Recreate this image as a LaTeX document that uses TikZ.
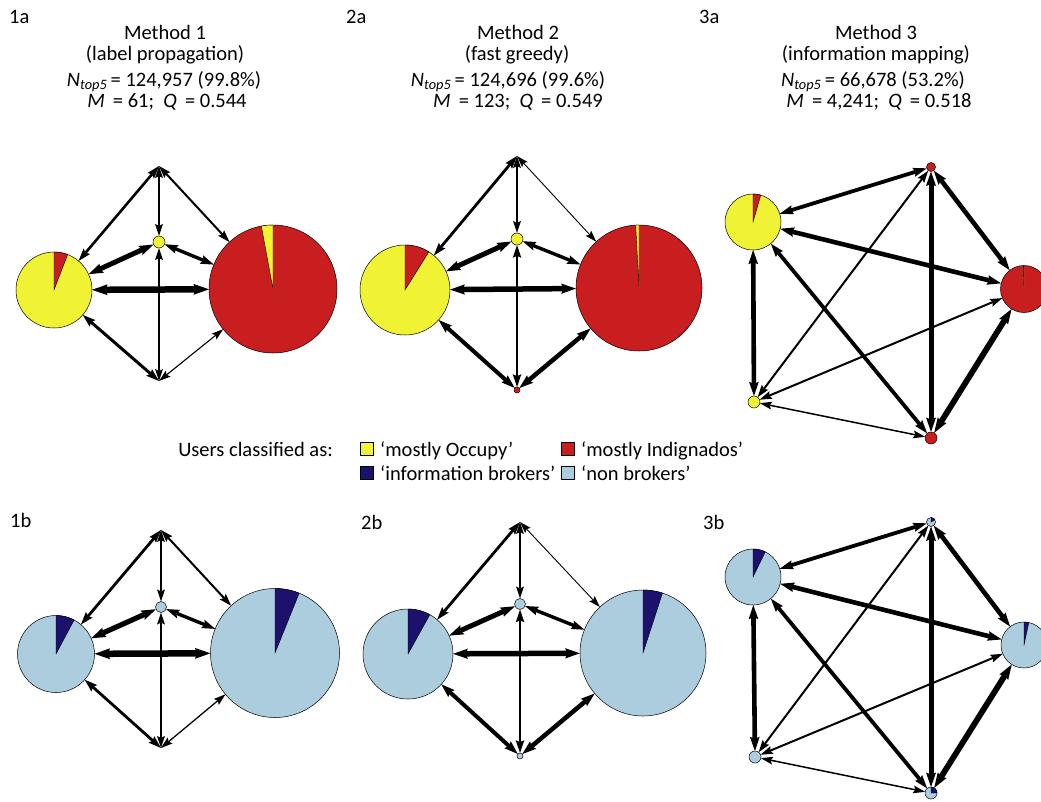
\documentclass[tikz,border=0pt]{standalone}
\usepackage{fontspec}
\setmainfont{Carlito}
\usetikzlibrary{arrows.meta}
\definecolor{occ}{RGB}{240,242,52}
\definecolor{ind}{RGB}{200,30,32}
\definecolor{brk}{RGB}{28,18,110}
\definecolor{nbr}{RGB}{172,205,222}
\tikzset{
  lnk/.style={line width=#1pt, <->},
  pie/.style={circle, draw=black, line width=0.5pt, inner sep=0pt, outer sep=0pt},
  wedge/.style={draw=black, line width=0.4pt},
  txt/.style={font=\fontsize{20.5}{24}\selectfont, inner sep=0pt},
  keybox/.style={draw=black, line width=1.1pt},
}
\newcommand\pienode[6]{%
  \node[pie, fill=#4, minimum size={2*#3pt}] (#1) at #2 {};
  \filldraw[wedge, fill=#5] (#1.center) -- ++(90:#3) arc[start angle=90, end angle=#6, radius=#3] -- cycle;
}
\begin{document}
\begin{tikzpicture}[x=1pt, y=1pt, >={Stealth[length=11pt 0.7, width=7pt 0.6, inset=2pt, line width=0pt 0]}]
\useasboundingbox[fill=white] (0,0) rectangle (1041,-801);

% ---------- headers ----------
\node[txt, anchor=base west] (h1a) at (9,-23) {1a};
\node[txt, anchor=base west] (h2a) at (346,-23) {2a};
\node[txt, anchor=base west] (h3a) at (699,-23) {3a};
\node[txt, anchor=base west] (h1b) at (10,-527) {1b};
\node[txt, anchor=base west] (h2b) at (361,-529) {2b};
\node[txt, anchor=base west] (h3b) at (703,-529) {3b};

\node[txt, anchor=base] (m1a) at (165,-39) {Method 1};
\node[txt, anchor=base] (m1b) at (165,-60) {(label propagation)};
\node[txt, anchor=base] (m1c) at (164,-86) {\textit{N}\textsubscript{\textit{top5}}\,= 124,957 (99.8\%)};
\node[txt, anchor=base] (m1d) at (167,-107) {\textit{M}\, = 61;\ \ \textit{Q}\, = 0.544};

\node[txt, anchor=base] (m2a) at (518,-39) {Method 2};
\node[txt, anchor=base] (m2b) at (517,-60) {(fast greedy)};
\node[txt, anchor=base] (m2c) at (508,-86) {\textit{N}\textsubscript{\textit{top5}}\,= 124,696 (99.6\%)};
\node[txt, anchor=base] (m2d) at (518,-107) {\textit{M}\, = 123;\ \ \textit{Q}\, = 0.549};

\node[txt, anchor=base] (m3a) at (876,-39) {Method 3};
\node[txt, anchor=base] (m3b) at (876,-60) {(information mapping)};
\node[txt, anchor=base] (m3c) at (873,-86) {\textit{N}\textsubscript{\textit{top5}}\,= 66,678 (53.2\%)};
\node[txt, anchor=base] (m3d) at (879,-107) {\textit{M}\, = 4,241;\ \ \textit{Q}\, = 0.518};

% ---------- legend ----------
\node[txt, anchor=base east] (lg0) at (333,-456) {Users classified as:};
\node[keybox, fill=occ, minimum size=13pt, inner sep=0pt, anchor=south west] (k1) at (360,-456) {};
\node[txt, anchor=base west] (t1) at (380,-456) {‘mostly Occupy’};
\node[keybox, fill=ind, minimum size=13pt, inner sep=0pt, anchor=south west] (k2) at (561,-456) {};
\node[txt, anchor=base west] (t2) at (581,-456) {‘mostly Indignados’};
\node[keybox, fill=brk, minimum size=13pt, inner sep=0pt, anchor=south west] (k3) at (360,-480) {};
\node[txt, anchor=base west] (t3) at (380,-480) {‘information brokers’};
\node[keybox, fill=nbr, minimum size=13pt, inner sep=0pt, anchor=south west] (k4) at (561,-480) {};
\node[txt, anchor=base west] (t4) at (581,-480) {‘non brokers’};

% ---------- panel 1a ----------
\coordinate (a1T) at (159,-166);
\coordinate (a1B) at (159,-381);
\node[pie, fill=occ, minimum size=12pt] (a1C) at (159,-242) {};
\pienode{a1L}{(54,-290)}{38}{occ}{ind}{69}
\pienode{a1R}{(273,-289)}{64}{ind}{occ}{100.5}
\draw[lnk=2.6] (a1T) -- (a1L);
\draw[lnk=1.5] (a1T) -- (a1C);
\draw[lnk=2] (a1T) -- (a1R);
\draw[lnk=5] (a1L) -- (a1C);
\draw[lnk=3.4] (a1C) -- (a1R);
\draw[lnk=6.5] (a1L) -- (a1R);
\draw[lnk=3] (a1L) -- (a1B);
\draw[lnk=1.4] (a1C) -- (a1B);
\draw[lnk=1.1] (a1B) -- (a1R);

% ---------- panel 2a ----------
\coordinate (a2T) at (517,-156);
\node[pie, fill=ind, minimum size=6pt] (a2B) at (517,-390) {};
\node[pie, fill=occ, minimum size=12pt] (a2C) at (517,-239) {};
\pienode{a2L}{(405,-290)}{45}{occ}{ind}{58}
\pienode{a2R}{(639,-288)}{63}{ind}{occ}{93}
\draw[lnk=2.8] (a2T) -- (a2L);
\draw[lnk=1.5] (a2T) -- (a2C);
\draw[lnk=0.9] (a2T) -- (a2R);
\draw[lnk=5] (a2L) -- (a2C);
\draw[lnk=3.4] (a2C) -- (a2R);
\draw[lnk=5.5] (a2L) -- (a2R);
\draw[lnk=4] (a2L) -- (a2B);
\draw[lnk=2.6] (a2C) -- (a2B);
\draw[lnk=4.5] (a2B) -- (a2R);

% ---------- panel 3a ----------
\node[pie, fill=ind, minimum size=9pt] (a3T) at (931,-167) {};
\pienode{a3Y}{(753,-222)}{28}{occ}{ind}{74}
\pienode{a3R}{(1024,-289)}{23.5}{ind}{occ}{91.5}
\node[pie, fill=occ, minimum size=12pt] (a3L) at (754,-402) {};
\node[pie, fill=ind, minimum size=12pt] (a3B) at (931,-438) {};
\draw[lnk=3.8] (a3Y) -- (a3T);
\draw[lnk=4.6] (a3Y) -- (a3R);
\draw[lnk=4.6] (a3Y) -- (a3L);
\draw[lnk=3.8] (a3Y) -- (a3B);
\draw[lnk=4.6] (a3T) -- (a3R);
\draw[lnk=5] (a3T) -- (a3B);
\draw[lnk=2] (a3T) -- (a3L);
\draw[lnk=2] (a3R) -- (a3L);
\draw[lnk=5.8] (a3R) -- (a3B);
\draw[lnk=1.5] (a3L) -- (a3B);

% ---------- panel 1b ----------
\coordinate (b1T) at (161,-530);
\coordinate (b1B) at (161,-748);
\node[pie, fill=nbr, minimum size=11pt] (b1C) at (161,-607) {};
\pienode{b1L}{(56,-654)}{38.5}{nbr}{brk}{62}
\pienode{b1R}{(275,-653)}{64.5}{nbr}{brk}{68}
\draw[lnk=2.8] (b1T) -- (b1L);
\draw[lnk=1.5] (b1T) -- (b1C);
\draw[lnk=2] (b1T) -- (b1R);
\draw[lnk=5.2] (b1L) -- (b1C);
\draw[lnk=3.4] (b1C) -- (b1R);
\draw[lnk=6.5] (b1L) -- (b1R);
\draw[lnk=2.8] (b1L) -- (b1B);
\draw[lnk=1.5] (b1C) -- (b1B);
\draw[lnk=1.3] (b1B) -- (b1R);

% ---------- panel 2b ----------
\coordinate (b2T) at (520,-522);
\node[pie, fill=nbr, minimum size=6pt] (b2B) at (520,-756) {};
\node[pie, fill=nbr, minimum size=11pt] (b2C) at (520,-604) {};
\pienode{b2L}{(408,-654)}{45}{nbr}{brk}{61}
\pienode{b2R}{(643,-653)}{63}{nbr}{brk}{72}
\draw[lnk=2.8] (b2T) -- (b2L);
\draw[lnk=1.5] (b2T) -- (b2C);
\draw[lnk=0.9] (b2T) -- (b2R);
\draw[lnk=5] (b2L) -- (b2C);
\draw[lnk=3.4] (b2C) -- (b2R);
\draw[lnk=5.5] (b2L) -- (b2R);
\draw[lnk=4] (b2L) -- (b2B);
\draw[lnk=2.6] (b2C) -- (b2B);
\draw[lnk=4.5] (b2B) -- (b2R);

% ---------- panel 3b ----------
\pienode{b3T}{(931,-522)}{4.5}{nbr}{brk}{30}
\pienode{b3Y}{(753,-577)}{28}{nbr}{brk}{64}
\pienode{b3R}{(1024,-645)}{23}{nbr}{brk}{78}
\node[pie, fill=nbr, minimum size=12pt] (b3L) at (755,-757) {};
\pienode{b3B}{(931,-793)}{6}{nbr}{brk}{0}
\draw[lnk=3.8] (b3Y) -- (b3T);
\draw[lnk=4.6] (b3Y) -- (b3R);
\draw[lnk=4.6] (b3Y) -- (b3L);
\draw[lnk=3.8] (b3Y) -- (b3B);
\draw[lnk=4.6] (b3T) -- (b3R);
\draw[lnk=5] (b3T) -- (b3B);
\draw[lnk=2] (b3T) -- (b3L);
\draw[lnk=2] (b3R) -- (b3L);
\draw[lnk=5.8] (b3R) -- (b3B);
\draw[lnk=1.5] (b3L) -- (b3B);
\end{tikzpicture}
\end{document}
